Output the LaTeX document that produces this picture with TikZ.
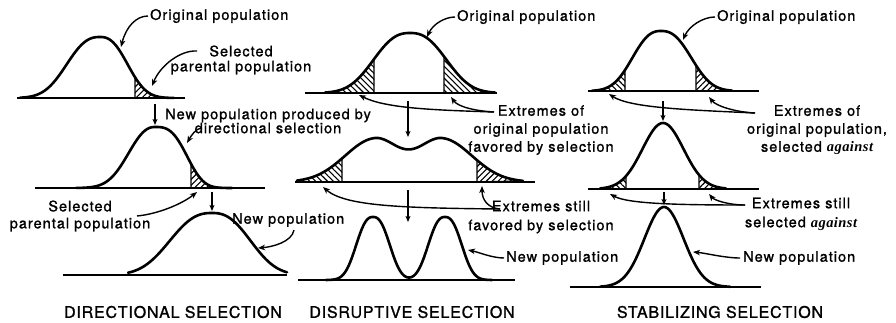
\documentclass[tikz,border=0pt]{standalone}
\usepackage{fontspec}
\usetikzlibrary{arrows.meta,patterns.meta}
\newfontfamily\lblfam{TeX Gyre Heros}[LetterSpace=7,FakeBold=1.2]
\newfontfamily\ttlfam{TeX Gyre Heros}[LetterSpace=5,FakeBold=1.2]
\newfontfamily\agfam{Liberation Serif}[LetterSpace=3]
\newcommand\lblf{\lblfam\fontsize{14.5}{18}\selectfont}
\newcommand\ttlf{\ttlfam\fontsize{16}{19}\selectfont}
\newcommand\agw[1]{{\agfam\itshape\bfseries #1}}
\tikzset{
  % half bell: centre/width/power/height/base/from/to
  bell/.style args={#1/#2/#3/#4/#5/#6/#7}{insert path={plot[domain=#6:#7,samples=40,smooth] (\x,{#5-#4*exp(0-(abs((\x-#1)/#2)+0.0001)^#3)})}},
  bellto/.style args={#1/#2/#3/#4/#5/#6/#7}{insert path={-- plot[domain=#6:#7,samples=40,smooth] (\x,{#5-#4*exp(0-(abs((\x-#1)/#2)+0.0001)^#3)})}},
  % bimodal piece: from/to/width hump1/width hump2
  bimod/.style args={#1/#2/#3/#4}{insert path={plot[domain=#1:#2,samples=40,smooth] (\x,{182-43.1*(exp(0-0.5*((\x-375)/#3)^2)+exp(0-0.5*((\x-442)/#4)^2))})}},
  bimodto/.style args={#1/#2/#3/#4}{insert path={-- plot[domain=#1:#2,samples=40,smooth] (\x,{182-43.1*(exp(0-0.5*((\x-375)/#3)^2)+exp(0-0.5*((\x-442)/#4)^2))})}},
  curve/.style={line width=2.6pt,line join=round,line cap=round},
  baseln/.style={line width=1.9pt},
  ptr/.style={line width=1.4pt,-{Stealth[length=7pt,width=5.5pt,inset=2pt]}},
  down/.style={line width=1.4pt,-{Stealth[length=6pt,width=5pt,inset=1.5pt]}},
  hatchR/.style={draw=black,line width=1.2pt,pattern={Lines[angle=45,distance=4.2pt,line width=1.1pt]}},
  hatchL/.style={draw=black,line width=1.2pt,pattern={Lines[angle=-45,distance=4.2pt,line width=1.1pt]}},
  lbl/.style={font=\lblf,inner sep=0pt,align=center},
  ttl/.style={font=\ttlf,inner sep=0pt},
}
\begin{document}
\begin{tikzpicture}[x=1pt,y=-1pt]
\useasboundingbox (0,0) rectangle (896,323);

%================ DIRECTIONAL =================
% top
\draw[baseln] (17,98) -- (185,98);
\filldraw[hatchR] (135,98) [bellto=100/34/2.5/61/98/135/174] -- cycle;
\draw[curve] [bell=100/41/2.5/61/98/20/100] [bellto=100/34/2.5/61/98/100/174];
% middle
\draw[baseln] (35,188) -- (265,188);
\filldraw[hatchR] (191,188) [bellto=155/37/3/61/188/191/232] -- cycle;
\draw[curve] [bell=155/34/2.3/61/188/76/155] [bellto=155/37/3/61/188/155/232];
% bottom
\draw[baseln] (63,275) -- (287,275);
\draw[curve] [bell=212/52/2.5/62/275/128/212] [bellto=212/47.5/2.5/62/275/212/287];

\node[lbl,anchor=west] (t1) at (150,16) {Original population};
\node[lbl] (t2) at (241,60) {Selected\\[-3pt]parental population};
\node[lbl] (t3) at (268,121) {New population produced by\\[-4pt]directional selection};
\node[lbl] (t4) at (80,216) {Selected\\[-1pt]parental population};
\node[lbl,anchor=west] (t5) at (232,220) {New population};
\node[ttl] (t6) at (173,312) {DIRECTIONAL SELECTION};

\coordinate (a1e) at (121,47);
\coordinate (a2s) at (197,51);  \coordinate (a2e) at (152,86);
\coordinate (a3s) at (202,128); \coordinate (a3e) at (187,143);
\coordinate (a4s) at (137,216); \coordinate (a4e) at (197,192);
\coordinate (a5s) at (294,230); \coordinate (a5e) at (258,248);
\coordinate (d1s) at (155,104); \coordinate (d1e) at (155,125);
\coordinate (d2s) at (212,192); \coordinate (d2e) at (212,211);

\draw[ptr] ([xshift=-2pt]t1.west) .. controls (136,16) and (126,27) .. (a1e);
\draw[ptr] (a2s) .. controls (180,50) and (160,66) .. (a2e);
\draw[ptr] (a3s) .. controls (196,128) and (191,136) .. (a3e);
\draw[ptr] (a4s) .. controls (158,214) and (182,204) .. (a4e);
\draw[ptr] (a5s) .. controls (292,242) and (272,247) .. (a5e);
\draw[down] (d1s) -- (d1e);
\draw[down] (d2s) -- (d2e);

%================ DISRUPTIVE =================
% top
\draw[baseln] (305,93) -- (497,93);
\filldraw[hatchL] (326,93) [bellto=410/45/2.5/60/93/326/374] -- (374,93) -- cycle;
\filldraw[hatchL] (444,93) [bellto=410/45/2.5/60/93/444/495] -- cycle;
\draw[curve] [bell=410/45/2.5/60/93/325/410] [bellto=410/45/2.5/60/93/410/495];
% middle
\draw[baseln] (295,182) -- (535,182);
\filldraw[hatchL] (297,182) [bimodto=297/342/30/24] -- (342,182) -- cycle;
\filldraw[hatchR] (477,182) [bimodto=477/523/24/30] -- cycle;
\draw[curve] [bimod=297/375/30/24] [bimodto=375/442/24/24] [bimodto=442/523/24/30];
% bottom
\draw[baseln] (298,280) -- (515,280);
\draw[curve] plot[domain=326:492,samples=140,smooth] (\x,{280-63*(exp(0-(abs((\x-373)/20.8)+0.0001)^2.5)+exp(0-(abs((\x-445)/20.8)+0.0001)^2.5))});

\node[lbl,anchor=west] (t7) at (457,17) {Original population};
\node[lbl] (t8) at (541,130) {Extremes of\\original population\\favored by selection};
\node[lbl] (t9) at (541,217) {Extremes still\\[1pt]favored by selection};
\node[lbl,anchor=west] (t10) at (506,258) {New population};
\node[ttl] (t11) at (412,312) {DISRUPTIVE SELECTION};

\coordinate (a6e) at (427,37);
\coordinate (e1) at (494,112);
\coordinate (a7e) at (451,97);
\coordinate (a8e) at (359,95);
\coordinate (e2) at (500,209);
\coordinate (a9e) at (482,186);
\coordinate (a10e) at (323,187);
\coordinate (a11s) at (504,258); \coordinate (a11e) at (468,250);
\coordinate (d3s) at (408,101); \coordinate (d3e) at (408,137);
\coordinate (d4s) at (408,190); \coordinate (d4e) at (408,222);

\draw[ptr] ([xshift=-2pt]t7.west) .. controls (445,17) and (433,24) .. (a6e);
\draw[ptr] (e1) .. controls (476,111) and (458,107) .. (a7e);
\draw[ptr] (e1) .. controls (430,110) and (385,108) .. (a8e);
\draw[ptr] (e2) .. controls (488,208) and (482,200) .. (a9e);
\draw[ptr] (e2) .. controls (400,208) and (345,206) .. (a10e);
\draw[ptr] (a11s) .. controls (492,258) and (478,252) .. (a11e);
\draw[down] (d3s) -- (d3e);
\draw[down] (d4s) -- (d4e);

%================ STABILIZING =================
% top
\draw[baseln] (588,91) -- (759,91);
\filldraw[hatchL] (596,91) [bellto=661/35.3/2.5/60/91/596/625] -- (625,91) -- cycle;
\filldraw[hatchR] (696,91) [bellto=661/37.4/2.5/60/91/696/730] -- cycle;
\draw[curve] [bell=661/35.3/2.5/60/91/592/661] [bellto=661/37.4/2.5/60/91/661/732];
% middle
\draw[baseln] (588,189) -- (759,189);
\filldraw[hatchL] (604,189) [bellto=663/29/2/66/189/604/626] -- (626,189) -- cycle;
\filldraw[hatchR] (699,189) [bellto=663/29/2/66/189/699/725] -- cycle;
\draw[curve] [bell=663/29/2/66/189/600/663] [bellto=663/29/2/66/189/663/726];
% bottom
\draw[baseln] (570,287) -- (761,287);
\draw[curve] [bell=664/27.6/2/80/287/600/664] [bellto=664/27.6/2/80/287/664/730];

\node[lbl,anchor=west] (t12) at (717,17) {Original population};
\node[lbl] (t13) at (817,130) {Extremes of\\original population,\\selected \agw{against}};
\node[lbl] (t14) at (801,214) {Extremes still\\[1pt]selected \agw{against}};
\node[lbl,anchor=west] (t15) at (743,258) {New population};
\node[ttl] (t16) at (720,312) {STABILIZING SELECTION};

\coordinate (a12e) at (683,40);
\coordinate (e3) at (755,113);
\coordinate (a13e) at (709,97);
\coordinate (a14e) at (609,94);
\coordinate (e4) at (745,205);
\coordinate (a15e) at (709,194);
\coordinate (a16e) at (610,194);
\coordinate (a17s) at (740,258); \coordinate (a17e) at (693,252);
\coordinate (d5s) at (663,101); \coordinate (d5e) at (663,121);
\coordinate (d6s) at (664,192); \coordinate (d6e) at (664,205);

\draw[ptr] ([xshift=-2pt]t12.west) .. controls (703,17) and (689,26) .. (a12e);
\draw[ptr] (e3) .. controls (735,112) and (716,106) .. (a13e);
\draw[ptr] (e3) .. controls (690,110) and (630,108) .. (a14e);
\draw[ptr] (e4) .. controls (728,205) and (714,200) .. (a15e);
\draw[ptr] (e4) .. controls (680,205) and (628,204) .. (a16e);
\draw[ptr] (a17s) .. controls (725,258) and (705,253) .. (a17e);
\draw[down] (d5s) -- (d5e);
\draw[down] (d6s) -- (d6e);
\end{tikzpicture}
\end{document}
